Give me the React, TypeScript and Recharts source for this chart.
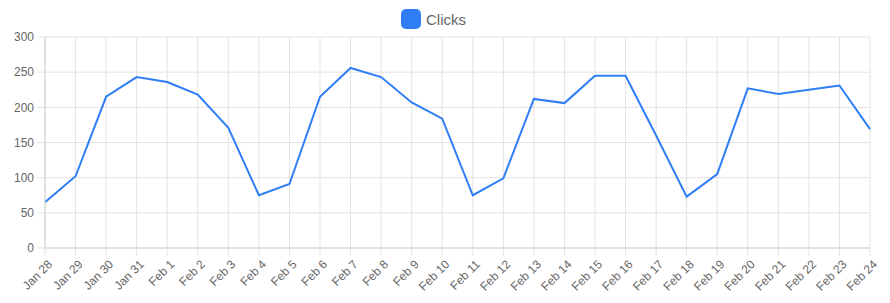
import { LineChart, Line, XAxis, YAxis, CartesianGrid } from "recharts";

const days = [
  "Jan 28", "Jan 29", "Jan 30", "Jan 31", "Feb 1", "Feb 2", "Feb 3",
  "Feb 4", "Feb 5", "Feb 6", "Feb 7", "Feb 8", "Feb 9", "Feb 10",
  "Feb 11", "Feb 12", "Feb 13", "Feb 14", "Feb 15", "Feb 16", "Feb 17",
  "Feb 18", "Feb 19", "Feb 20", "Feb 21", "Feb 22", "Feb 23", "Feb 24",
];

const clicks = [
  65, 102, 215, 243, 236, 218, 171,
  75, 91, 215, 256, 243, 207, 184,
  75, 99, 212, 206, 245, 245, 160,
  73, 105, 227, 219, 225, 231, 169,
];

const yTicks = [0, 50, 100, 150, 200, 250, 300];

const data = days.map((day, i) => ({ day, clicks: clicks[i] }));

const BLUE = "#2f7ef6";
const FONT = "'Liberation Sans', Arial, Helvetica, sans-serif";

// rotated date labels, right end sitting under the tick
function DayTick(props: any) {
  const { x, y, payload } = props;
  return (
    <g transform={`translate(${x + 5},${y + 4}) rotate(-45)`}>
      <text
        x={0}
        y={0}
        dy="0.35em"
        textAnchor="end"
        fill="#666"
        fontSize={12}
        fontFamily={FONT}
      >
        {payload.value}
      </text>
    </g>
  );
}

export default function App() {
  return (
    <div style={{ position: "absolute", left: 0, top: 0, width: 890, height: 303, background: "#fff" }}>
      {/* legend drawn by hand so it doesn't take space from the plot */}
      <div
        style={{
          position: "absolute",
          left: 401,
          top: 9,
          height: 20,
          display: "flex",
          alignItems: "center",
          fontFamily: FONT,
          fontSize: 15,
          color: "#666",
          zIndex: 1,
        }}
      >
        <span
          style={{
            width: 20,
            height: 20,
            borderRadius: 5,
            background: BLUE,
            marginRight: 5,
            display: "inline-block",
          }}
        />
        <span>Clicks</span>
      </div>
      <LineChart
        width={890}
        height={303}
        data={data}
        margin={{ top: 37, right: 20, left: 0, bottom: 0 }}
      >
        <CartesianGrid stroke="#e3e3e3" strokeWidth={1} />
        <XAxis
          dataKey="day"
          interval={0}
          height={55}
          tick={<DayTick />}
          tickSize={8}
          tickMargin={2}
          stroke="#d0d0d0"
          tickLine={{ stroke: "#e3e3e3" }}
        />
        <YAxis
          width={45}
          domain={[0, 300]}
          ticks={yTicks}
          tickSize={8}
          tickMargin={3}
          stroke="#d0d0d0"
          tickLine={{ stroke: "#e3e3e3" }}
          tick={{ fill: "#666", fontSize: 12, fontFamily: FONT }}
        />
        <Line
          type="linear"
          dataKey="clicks"
          stroke={BLUE}
          strokeWidth={2}
          dot={false}
          isAnimationActive={false}
        />
      </LineChart>
    </div>
  );
}
